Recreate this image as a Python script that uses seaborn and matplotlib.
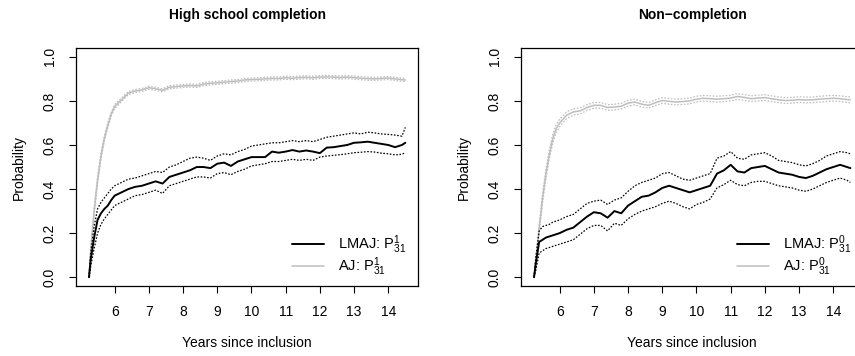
import matplotlib
matplotlib.use('Agg')
import matplotlib.pyplot as plt
import seaborn as sns
import pandas as pd
from matplotlib.lines import Line2D

# time grid (years since inclusion)
years = [5.25, 5.3, 5.4, 5.5, 5.6, 5.7, 5.8, 5.9, 6.0, 6.2, 6.4, 6.6, 6.8, 7.0, 7.2, 7.4,
         7.6, 7.8, 8.0, 8.2, 8.4, 8.6, 8.8, 9.0, 9.2, 9.4, 9.6, 9.8, 10.0, 10.2, 10.4, 10.6,
         10.8, 11.0, 11.2, 11.4, 11.6, 11.8, 12.0, 12.2, 12.4, 12.6, 12.8, 13.0, 13.2, 13.4,
         13.6, 13.8, 14.0, 14.2, 14.4, 14.5]

# High school completion (P^1_31)
hs_aj = [0.0, 0.12, 0.30, 0.44, 0.55, 0.63, 0.69, 0.74, 0.775, 0.805, 0.835, 0.845, 0.85, 0.86, 0.855, 0.848,
         0.862, 0.865, 0.868, 0.87, 0.868, 0.876, 0.88, 0.882, 0.885, 0.888, 0.89, 0.895, 0.897, 0.898, 0.90, 0.902,
         0.902, 0.905, 0.903, 0.906, 0.907, 0.905, 0.908, 0.909, 0.908, 0.906, 0.908, 0.906, 0.903, 0.901,
         0.90, 0.902, 0.904, 0.90, 0.896, 0.895]
hs_aj_lo = [0.0, 0.11, 0.285, 0.425, 0.535, 0.618, 0.679, 0.73, 0.766, 0.797, 0.828, 0.838, 0.843, 0.853, 0.848, 0.841,
            0.855, 0.858, 0.861, 0.863, 0.861, 0.869, 0.873, 0.875, 0.878, 0.881, 0.883, 0.888, 0.89, 0.891, 0.893, 0.895,
            0.895, 0.898, 0.896, 0.899, 0.9, 0.898, 0.901, 0.902, 0.901, 0.899, 0.901, 0.899, 0.896, 0.894,
            0.893, 0.895, 0.897, 0.893, 0.889, 0.888]
hs_aj_hi = [0.0, 0.13, 0.315, 0.455, 0.565, 0.642, 0.701, 0.75, 0.784, 0.813, 0.842, 0.852, 0.857, 0.867, 0.862, 0.855,
            0.869, 0.872, 0.875, 0.877, 0.875, 0.883, 0.887, 0.889, 0.892, 0.895, 0.897, 0.902, 0.904, 0.905, 0.907, 0.909,
            0.909, 0.912, 0.91, 0.913, 0.914, 0.912, 0.915, 0.916, 0.915, 0.913, 0.915, 0.913, 0.91, 0.908,
            0.907, 0.909, 0.911, 0.907, 0.903, 0.902]
hs_lmaj = [0.0, 0.08, 0.18, 0.26, 0.29, 0.31, 0.325, 0.35, 0.37, 0.385, 0.40, 0.41, 0.415, 0.425, 0.435, 0.425,
           0.455, 0.465, 0.475, 0.485, 0.50, 0.50, 0.495, 0.515, 0.52, 0.505, 0.525, 0.535, 0.545, 0.545, 0.545, 0.57,
           0.565, 0.57, 0.577, 0.57, 0.575, 0.57, 0.563, 0.588, 0.59, 0.595, 0.60, 0.61, 0.612, 0.615,
           0.61, 0.605, 0.60, 0.59, 0.60, 0.61]
hs_lmaj_lo = [0.0, 0.05, 0.13, 0.20, 0.24, 0.265, 0.285, 0.305, 0.325, 0.34, 0.355, 0.37, 0.375, 0.385, 0.395, 0.38,
              0.415, 0.425, 0.435, 0.445, 0.455, 0.455, 0.45, 0.47, 0.475, 0.465, 0.48, 0.49, 0.505, 0.51, 0.515, 0.525,
              0.525, 0.53, 0.535, 0.53, 0.535, 0.53, 0.545, 0.55, 0.553, 0.556, 0.56, 0.565, 0.567, 0.57,
              0.568, 0.563, 0.56, 0.555, 0.558, 0.565]
hs_lmaj_hi = [0.0, 0.11, 0.23, 0.31, 0.34, 0.36, 0.38, 0.40, 0.415, 0.43, 0.445, 0.45, 0.46, 0.47, 0.48, 0.475,
              0.50, 0.51, 0.525, 0.54, 0.545, 0.54, 0.53, 0.55, 0.56, 0.555, 0.57, 0.58, 0.595, 0.60, 0.605, 0.61,
              0.61, 0.615, 0.62, 0.615, 0.62, 0.615, 0.625, 0.635, 0.64, 0.645, 0.65, 0.655, 0.65, 0.658,
              0.655, 0.65, 0.648, 0.645, 0.64, 0.68]

# Non-completion (P^0_31)
nc_aj = [0.0, 0.06, 0.22, 0.36, 0.47, 0.56, 0.63, 0.675, 0.70, 0.735, 0.75, 0.755, 0.77, 0.78, 0.78, 0.77,
         0.772, 0.776, 0.79, 0.795, 0.785, 0.78, 0.792, 0.802, 0.798, 0.795, 0.797, 0.80, 0.808, 0.812, 0.81, 0.808,
         0.81, 0.813, 0.82, 0.816, 0.81, 0.813, 0.815, 0.81, 0.805, 0.802, 0.803, 0.806, 0.804, 0.805,
         0.808, 0.81, 0.812, 0.81, 0.806, 0.805]
nc_aj_lo = [0.0, 0.045, 0.2, 0.338, 0.448, 0.54, 0.61, 0.657, 0.683, 0.72, 0.736, 0.741, 0.757, 0.767, 0.767, 0.757,
            0.759, 0.763, 0.777, 0.782, 0.772, 0.767, 0.779, 0.789, 0.785, 0.782, 0.784, 0.787, 0.795, 0.799, 0.797, 0.795,
            0.797, 0.8, 0.807, 0.803, 0.797, 0.8, 0.802, 0.797, 0.792, 0.789, 0.79, 0.793, 0.791, 0.792,
            0.795, 0.797, 0.799, 0.797, 0.793, 0.792]
nc_aj_hi = [0.0, 0.075, 0.24, 0.382, 0.492, 0.58, 0.65, 0.693, 0.717, 0.75, 0.764, 0.769, 0.783, 0.793, 0.793, 0.783,
            0.785, 0.789, 0.803, 0.808, 0.798, 0.793, 0.805, 0.815, 0.811, 0.808, 0.81, 0.813, 0.821, 0.825, 0.823, 0.821,
            0.823, 0.826, 0.833, 0.829, 0.823, 0.826, 0.828, 0.823, 0.818, 0.815, 0.816, 0.819, 0.817, 0.818,
            0.821, 0.823, 0.825, 0.823, 0.819, 0.818]
nc_lmaj = [0.0, 0.06, 0.16, 0.17, 0.18, 0.185, 0.19, 0.195, 0.20, 0.215, 0.225, 0.25, 0.275, 0.295, 0.29, 0.27,
           0.30, 0.29, 0.325, 0.345, 0.365, 0.37, 0.385, 0.405, 0.415, 0.405, 0.395, 0.385, 0.395, 0.405, 0.415, 0.47,
           0.485, 0.51, 0.48, 0.475, 0.495, 0.50, 0.505, 0.49, 0.475, 0.47, 0.465, 0.455, 0.45, 0.46,
           0.475, 0.49, 0.50, 0.51, 0.50, 0.495]
nc_lmaj_lo = [0.0, 0.03, 0.11, 0.12, 0.13, 0.135, 0.14, 0.145, 0.15, 0.16, 0.17, 0.195, 0.22, 0.235, 0.235, 0.21,
              0.245, 0.235, 0.265, 0.285, 0.30, 0.31, 0.32, 0.335, 0.345, 0.335, 0.32, 0.31, 0.33, 0.34, 0.355, 0.405,
              0.42, 0.44, 0.42, 0.415, 0.43, 0.435, 0.435, 0.425, 0.415, 0.41, 0.405, 0.395, 0.39, 0.40,
              0.415, 0.43, 0.44, 0.45, 0.44, 0.43]
nc_lmaj_hi = [0.0, 0.09, 0.21, 0.23, 0.235, 0.24, 0.25, 0.255, 0.26, 0.275, 0.285, 0.31, 0.335, 0.345, 0.35, 0.33,
              0.35, 0.36, 0.39, 0.415, 0.43, 0.44, 0.45, 0.47, 0.475, 0.46, 0.445, 0.44, 0.45, 0.46, 0.47, 0.54,
              0.55, 0.57, 0.54, 0.535, 0.555, 0.56, 0.565, 0.55, 0.53, 0.525, 0.52, 0.51, 0.505, 0.515,
              0.53, 0.55, 0.56, 0.57, 0.565, 0.56]

sns.set_theme(style='white')
plt.rcParams['font.family'] = ['Liberation Sans', 'DejaVu Sans']
plt.rcParams['mathtext.fontset'] = 'custom'
plt.rcParams['mathtext.rm'] = 'Liberation Sans'
plt.rcParams['mathtext.it'] = 'Liberation Sans:italic'
plt.rcParams['mathtext.bf'] = 'Liberation Sans:bold'
plt.rcParams['text.color'] = 'black'
plt.rcParams['axes.labelcolor'] = 'black'
plt.rcParams['xtick.color'] = 'black'
plt.rcParams['ytick.color'] = 'black'

GRAY = '#bebebe'
DOT = (0, (1.3, 1.3))

fig = plt.figure(figsize=(8.55, 3.56), dpi=100)
ax1 = fig.add_axes([0.0889, 0.1966, 0.4, 0.6685])
ax2 = fig.add_axes([0.6094, 0.1966, 0.4, 0.6685])


def draw_panel(ax, title, sup, aj, aj_lo, aj_hi, lm, lm_lo, lm_hi):
    df = pd.DataFrame({'t': years, 'aj': aj, 'aj_lo': aj_lo, 'aj_hi': aj_hi,
                       'lm': lm, 'lm_lo': lm_lo, 'lm_hi': lm_hi})
    for col in ['aj_lo', 'aj_hi']:
        sns.lineplot(data=df, x='t', y=col, ax=ax, color=GRAY, lw=0.9, linestyle=DOT,
                     estimator=None)
    sns.lineplot(data=df, x='t', y='aj', ax=ax, color=GRAY, lw=1.1, estimator=None)
    for col in ['lm_lo', 'lm_hi']:
        sns.lineplot(data=df, x='t', y=col, ax=ax, color='black', lw=0.9, linestyle=DOT,
                     estimator=None)
    sns.lineplot(data=df, x='t', y='lm', ax=ax, color='black', lw=1.4, estimator=None)

    ax.set_xlim(4.87, 14.87)
    ax.set_ylim(-0.04, 1.04)
    ax.set_xticks([6, 7, 8, 9, 10, 11, 12, 13, 14])
    ax.set_yticks([0.0, 0.2, 0.4, 0.6, 0.8, 1.0])
    ax.set_yticklabels(['0.0', '0.2', '0.4', '0.6', '0.8', '1.0'], rotation=90, va='center')
    ax.tick_params(axis='both', direction='out', length=5, width=0.8, color='black',
                   labelcolor='black', labelsize=10, pad=9, bottom=True, left=True)
    for s in ax.spines.values():
        s.set_color('black')
        s.set_linewidth(0.9)
    ax.set_title(title, fontsize=10, fontweight='bold', pad=21, color='black')
    ax.set_xlabel('Years since inclusion', fontsize=10, labelpad=12, color='black')
    ax.set_ylabel('Probability', fontsize=10, labelpad=12, color='black')

    handles = [Line2D([], [], color='black', lw=1.4), Line2D([], [], color=GRAY, lw=1.1)]
    labels = [r'LMAJ: $\mathrm{P}^{%s}_{31}$' % sup, r'AJ: $\mathrm{P}^{%s}_{31}$' % sup]
    leg = ax.legend(handles, labels, loc='lower right', bbox_to_anchor=(0.99, -0.005), frameon=False,
                    fontsize=10.5, handlelength=2.2, handletextpad=0.9, labelspacing=0.0,
                    borderaxespad=0.2)
    for txt in leg.get_texts():
        txt.set_color('black')


draw_panel(ax1, 'High school completion', '1', hs_aj, hs_aj_lo, hs_aj_hi,
           hs_lmaj, hs_lmaj_lo, hs_lmaj_hi)
draw_panel(ax2, 'Non\u2212completion', '0', nc_aj, nc_aj_lo, nc_aj_hi,
           nc_lmaj, nc_lmaj_lo, nc_lmaj_hi)

fig.savefig('out.png', dpi=100)
